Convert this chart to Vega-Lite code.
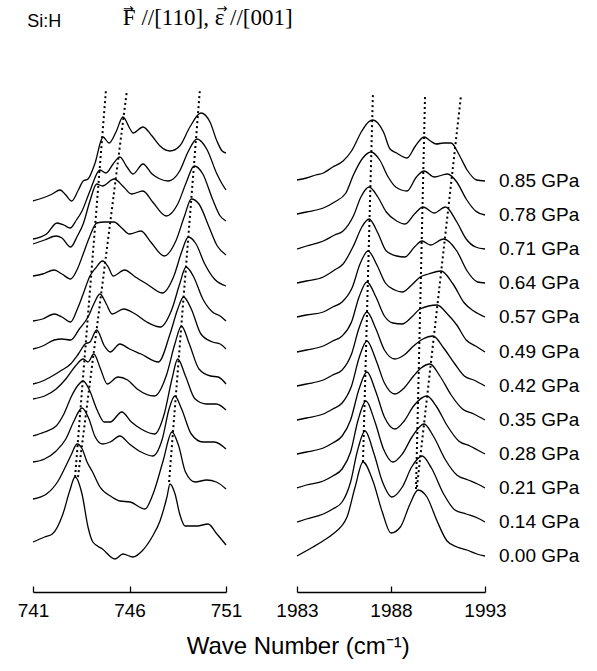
{
"$schema": "https://vega.github.io/schema/vega-lite/v6.json",
"padding": {"left": 17, "top": 3, "right": 5, "bottom": 5},
"background": "white",
"bounds": "flush",
"spacing": 71,
"title": {"text": "Wave Number (cm⁻¹)", "orient": "bottom", "anchor": "middle", "font": "Liberation Sans", "fontSize": 24, "fontWeight": "normal", "offset": 15, "color": "black"},
"config": {"view": {"stroke": null}},
"datasets": {
"L": [
{"p":"0.85","x":741.0,"y":391},{"p":"0.85","x":741.5,"y":394},{"p":"0.85","x":742.0,"y":398},{"p":"0.85","x":742.4,"y":402},{"p":"0.85","x":742.7,"y":397},{"p":"0.85","x":743.0,"y":391},{"p":"0.85","x":743.35,"y":402},{"p":"0.85","x":743.6,"y":411},{"p":"0.85","x":743.85,"y":413},{"p":"0.85","x":744.2,"y":428},{"p":"0.85","x":744.63,"y":455},{"p":"0.85","x":744.94,"y":449},{"p":"0.85","x":745.3,"y":460},{"p":"0.85","x":745.66,"y":475},{"p":"0.85","x":746.03,"y":463},{"p":"0.85","x":746.18,"y":459},{"p":"0.85","x":746.7,"y":465},{"p":"0.85","x":747.17,"y":456},{"p":"0.85","x":747.58,"y":446},{"p":"0.85","x":748.1,"y":441},{"p":"0.85","x":748.6,"y":446},{"p":"0.85","x":749.13,"y":465},{"p":"0.85","x":749.7,"y":479},{"p":"0.85","x":750.17,"y":470},{"p":"0.85","x":750.53,"y":451},{"p":"0.85","x":750.8,"y":441},{"p":"0.85","x":751.0,"y":439},
{"p":"0.78","x":741.0,"y":353},{"p":"0.78","x":741.7,"y":358},{"p":"0.78","x":742.24,"y":369},{"p":"0.78","x":742.6,"y":367},{"p":"0.78","x":742.92,"y":364},{"p":"0.78","x":743.25,"y":372},{"p":"0.78","x":743.54,"y":381},{"p":"0.78","x":743.95,"y":401},{"p":"0.78","x":744.47,"y":422},{"p":"0.78","x":744.78,"y":419},{"p":"0.78","x":745.15,"y":428},{"p":"0.78","x":745.5,"y":435},{"p":"0.78","x":745.87,"y":425},{"p":"0.78","x":746.18,"y":418},{"p":"0.78","x":746.7,"y":428},{"p":"0.78","x":747.17,"y":418},{"p":"0.78","x":747.58,"y":413},{"p":"0.78","x":748.0,"y":411},{"p":"0.78","x":748.6,"y":421},{"p":"0.78","x":749.03,"y":440},{"p":"0.78","x":749.5,"y":453},{"p":"0.78","x":750.0,"y":443},{"p":"0.78","x":750.53,"y":418},{"p":"0.78","x":750.8,"y":408},{"p":"0.78","x":751.0,"y":402},
{"p":"0.71","x":741.0,"y":348},{"p":"0.71","x":741.6,"y":352},{"p":"0.71","x":742.2,"y":356},{"p":"0.71","x":742.5,"y":354},{"p":"0.71","x":742.95,"y":345},{"p":"0.71","x":743.3,"y":356},{"p":"0.71","x":743.6,"y":368},{"p":"0.71","x":743.95,"y":391},{"p":"0.71","x":744.3,"y":408},{"p":"0.71","x":744.6,"y":406},{"p":"0.71","x":745.2,"y":413},{"p":"0.71","x":745.7,"y":405},{"p":"0.71","x":746.1,"y":398},{"p":"0.71","x":746.7,"y":401},{"p":"0.71","x":747.2,"y":390},{"p":"0.71","x":747.9,"y":376},{"p":"0.71","x":748.5,"y":388},{"p":"0.71","x":748.95,"y":410},{"p":"0.71","x":749.35,"y":426},{"p":"0.71","x":749.8,"y":418},{"p":"0.71","x":750.3,"y":393},{"p":"0.71","x":750.7,"y":376},{"p":"0.71","x":751.0,"y":371},
{"p":"0.64","x":741.0,"y":316},{"p":"0.64","x":741.5,"y":318},{"p":"0.64","x":742.1,"y":322},{"p":"0.64","x":742.5,"y":318},{"p":"0.64","x":742.95,"y":313},{"p":"0.64","x":743.3,"y":323},{"p":"0.64","x":743.6,"y":338},{"p":"0.64","x":743.95,"y":356},{"p":"0.64","x":744.3,"y":369},{"p":"0.64","x":744.7,"y":370},{"p":"0.64","x":745.2,"y":370},{"p":"0.64","x":745.6,"y":364},{"p":"0.64","x":746.0,"y":358},{"p":"0.64","x":746.6,"y":361},{"p":"0.64","x":747.1,"y":350},{"p":"0.64","x":747.8,"y":336},{"p":"0.64","x":748.4,"y":351},{"p":"0.64","x":748.85,"y":376},{"p":"0.64","x":749.2,"y":393},{"p":"0.64","x":749.6,"y":388},{"p":"0.64","x":750.1,"y":366},{"p":"0.64","x":750.55,"y":346},{"p":"0.64","x":751.0,"y":337},
{"p":"0.57","x":741.0,"y":271},{"p":"0.57","x":741.5,"y":273},{"p":"0.57","x":742.1,"y":278},{"p":"0.57","x":742.5,"y":275},{"p":"0.57","x":742.95,"y":270},{"p":"0.57","x":743.3,"y":283},{"p":"0.57","x":743.6,"y":298},{"p":"0.57","x":743.95,"y":316},{"p":"0.57","x":744.25,"y":324},{"p":"0.57","x":744.6,"y":331},{"p":"0.57","x":744.9,"y":325},{"p":"0.57","x":745.15,"y":316},{"p":"0.57","x":745.75,"y":322},{"p":"0.57","x":746.3,"y":315},{"p":"0.57","x":746.9,"y":308},{"p":"0.57","x":747.7,"y":299},{"p":"0.57","x":748.3,"y":316},{"p":"0.57","x":748.7,"y":340},{"p":"0.57","x":749.05,"y":355},{"p":"0.57","x":749.45,"y":348},{"p":"0.57","x":749.9,"y":328},{"p":"0.57","x":750.4,"y":313},{"p":"0.57","x":751.0,"y":306},
{"p":"0.49","x":741.0,"y":243},{"p":"0.49","x":741.5,"y":246},{"p":"0.49","x":742.1,"y":252},{"p":"0.49","x":742.5,"y":253},{"p":"0.49","x":742.95,"y":252},{"p":"0.49","x":743.4,"y":263},{"p":"0.49","x":743.85,"y":275},{"p":"0.49","x":744.15,"y":288},{"p":"0.49","x":744.47,"y":298},{"p":"0.49","x":744.8,"y":288},{"p":"0.49","x":745.1,"y":278},{"p":"0.49","x":745.7,"y":283},{"p":"0.49","x":746.3,"y":278},{"p":"0.49","x":746.9,"y":270},{"p":"0.49","x":747.6,"y":265},{"p":"0.49","x":748.2,"y":283},{"p":"0.49","x":748.6,"y":308},{"p":"0.49","x":748.93,"y":325},{"p":"0.49","x":749.3,"y":316},{"p":"0.49","x":749.8,"y":293},{"p":"0.49","x":750.3,"y":280},{"p":"0.49","x":750.7,"y":276},{"p":"0.49","x":751.0,"y":271},
{"p":"0.42","x":741.0,"y":208},{"p":"0.42","x":741.5,"y":211},{"p":"0.42","x":742.0,"y":216},{"p":"0.42","x":742.5,"y":222},{"p":"0.42","x":742.95,"y":228},{"p":"0.42","x":743.35,"y":238},{"p":"0.42","x":743.7,"y":248},{"p":"0.42","x":743.95,"y":250},{"p":"0.42","x":744.3,"y":262},{"p":"0.42","x":744.7,"y":246},{"p":"0.42","x":745.0,"y":240},{"p":"0.42","x":745.5,"y":248},{"p":"0.42","x":746.0,"y":243},{"p":"0.42","x":746.6,"y":238},{"p":"0.42","x":747.5,"y":230},{"p":"0.42","x":748.1,"y":258},{"p":"0.42","x":748.5,"y":283},{"p":"0.42","x":748.8,"y":295},{"p":"0.42","x":749.2,"y":283},{"p":"0.42","x":749.7,"y":258},{"p":"0.42","x":750.3,"y":250},{"p":"0.42","x":750.7,"y":248},{"p":"0.42","x":751.0,"y":243},
{"p":"0.35","x":741.0,"y":193},{"p":"0.35","x":741.6,"y":196},{"p":"0.35","x":742.2,"y":203},{"p":"0.35","x":742.7,"y":213},{"p":"0.35","x":743.2,"y":226},{"p":"0.35","x":743.6,"y":233},{"p":"0.35","x":743.85,"y":230},{"p":"0.35","x":744.15,"y":238},{"p":"0.35","x":744.5,"y":223},{"p":"0.35","x":744.85,"y":208},{"p":"0.35","x":745.4,"y":215},{"p":"0.35","x":745.9,"y":212},{"p":"0.35","x":746.4,"y":203},{"p":"0.35","x":747.3,"y":196},{"p":"0.35","x":747.9,"y":216},{"p":"0.35","x":748.35,"y":248},{"p":"0.35","x":748.69,"y":266},{"p":"0.35","x":749.1,"y":248},{"p":"0.35","x":749.6,"y":223},{"p":"0.35","x":750.2,"y":216},{"p":"0.35","x":750.6,"y":215},{"p":"0.35","x":751.0,"y":208},
{"p":"0.28","x":741.0,"y":156},{"p":"0.28","x":741.6,"y":160},{"p":"0.28","x":742.2,"y":166},{"p":"0.28","x":742.6,"y":178},{"p":"0.28","x":743.0,"y":196},{"p":"0.28","x":743.3,"y":206},{"p":"0.28","x":743.6,"y":211},{"p":"0.28","x":743.9,"y":203},{"p":"0.28","x":744.3,"y":183},{"p":"0.28","x":744.7,"y":170},{"p":"0.28","x":745.0,"y":170},{"p":"0.28","x":745.6,"y":180},{"p":"0.28","x":746.1,"y":170},{"p":"0.28","x":746.6,"y":163},{"p":"0.28","x":747.3,"y":158},{"p":"0.28","x":747.8,"y":178},{"p":"0.28","x":748.2,"y":213},{"p":"0.28","x":748.5,"y":233},{"p":"0.28","x":748.9,"y":216},{"p":"0.28","x":749.4,"y":193},{"p":"0.28","x":750.0,"y":188},{"p":"0.28","x":750.5,"y":188},{"p":"0.28","x":751.0,"y":182},
{"p":"0.21","x":741.0,"y":130},{"p":"0.21","x":741.6,"y":133},{"p":"0.21","x":742.2,"y":141},{"p":"0.21","x":742.7,"y":153},{"p":"0.21","x":743.1,"y":170},{"p":"0.21","x":743.54,"y":184},{"p":"0.21","x":743.9,"y":173},{"p":"0.21","x":744.2,"y":156},{"p":"0.21","x":744.6,"y":148},{"p":"0.21","x":745.0,"y":150},{"p":"0.21","x":745.5,"y":156},{"p":"0.21","x":746.0,"y":148},{"p":"0.21","x":746.6,"y":140},{"p":"0.21","x":747.2,"y":136},{"p":"0.21","x":747.7,"y":153},{"p":"0.21","x":748.05,"y":183},{"p":"0.21","x":748.35,"y":196},{"p":"0.21","x":748.7,"y":183},{"p":"0.21","x":749.2,"y":158},{"p":"0.21","x":749.8,"y":150},{"p":"0.21","x":750.4,"y":150},{"p":"0.21","x":751.0,"y":143},
{"p":"0.14","x":741.0,"y":93},{"p":"0.14","x":741.7,"y":98},{"p":"0.14","x":742.3,"y":111},{"p":"0.14","x":742.7,"y":126},{"p":"0.14","x":743.0,"y":138},{"p":"0.14","x":743.28,"y":148},{"p":"0.14","x":743.55,"y":143},{"p":"0.14","x":743.8,"y":130},{"p":"0.14","x":744.06,"y":121},{"p":"0.14","x":744.47,"y":105},{"p":"0.14","x":745.09,"y":95},{"p":"0.14","x":745.5,"y":91},{"p":"0.14","x":746.03,"y":90},{"p":"0.14","x":746.8,"y":83},{"p":"0.14","x":747.22,"y":98},{"p":"0.14","x":747.74,"y":131},{"p":"0.14","x":748.2,"y":160},{"p":"0.14","x":748.55,"y":146},{"p":"0.14","x":748.9,"y":120},{"p":"0.14","x":749.4,"y":110},{"p":"0.14","x":750.0,"y":112},{"p":"0.14","x":750.5,"y":110},{"p":"0.14","x":751.0,"y":103},
{"p":"0.00","x":741.0,"y":50},{"p":"0.00","x":741.6,"y":55},{"p":"0.00","x":742.0,"y":58},{"p":"0.00","x":742.55,"y":78},{"p":"0.00","x":742.9,"y":101},{"p":"0.00","x":743.18,"y":115},{"p":"0.00","x":743.54,"y":98},{"p":"0.00","x":743.85,"y":65},{"p":"0.00","x":744.1,"y":50},{"p":"0.00","x":744.6,"y":43},{"p":"0.00","x":745.25,"y":33},{"p":"0.00","x":745.66,"y":38},{"p":"0.00","x":746.18,"y":35},{"p":"0.00","x":746.65,"y":41},{"p":"0.00","x":747.17,"y":55},{"p":"0.00","x":747.58,"y":71},{"p":"0.00","x":747.94,"y":95},{"p":"0.00","x":748.1,"y":108},{"p":"0.00","x":748.36,"y":98},{"p":"0.00","x":748.6,"y":78},{"p":"0.00","x":748.88,"y":66},{"p":"0.00","x":749.5,"y":66},{"p":"0.00","x":750.07,"y":68},{"p":"0.00","x":750.53,"y":58},{"p":"0.00","x":751.0,"y":47}
],
"R": [
{"p":"0.85","x":1983.0,"y":412},{"p":"0.85","x":1983.5,"y":414},{"p":"0.85","x":1984.0,"y":417},{"p":"0.85","x":1984.4,"y":419},{"p":"0.85","x":1984.9,"y":425},{"p":"0.85","x":1985.45,"y":431},{"p":"0.85","x":1985.9,"y":441},{"p":"0.85","x":1986.45,"y":461},{"p":"0.85","x":1986.8,"y":470},{"p":"0.85","x":1987.04,"y":472},{"p":"0.85","x":1987.3,"y":469},{"p":"0.85","x":1987.6,"y":460},{"p":"0.85","x":1987.95,"y":443},{"p":"0.85","x":1988.3,"y":439},{"p":"0.85","x":1988.85,"y":434},{"p":"0.85","x":1989.3,"y":446},{"p":"0.85","x":1989.76,"y":455},{"p":"0.85","x":1990.1,"y":451},{"p":"0.85","x":1990.4,"y":448},{"p":"0.85","x":1990.8,"y":449},{"p":"0.85","x":1991.2,"y":449},{"p":"0.85","x":1991.6,"y":438},{"p":"0.85","x":1992.05,"y":422},{"p":"0.85","x":1992.55,"y":412},{"p":"0.85","x":1993.0,"y":411},
{"p":"0.78","x":1983.0,"y":378},{"p":"0.78","x":1983.5,"y":380},{"p":"0.78","x":1984.4,"y":384},{"p":"0.78","x":1985.0,"y":390},{"p":"0.78","x":1985.6,"y":399},{"p":"0.78","x":1986.0,"y":417},{"p":"0.78","x":1986.5,"y":434},{"p":"0.78","x":1986.94,"y":440},{"p":"0.78","x":1987.4,"y":432},{"p":"0.78","x":1987.85,"y":415},{"p":"0.78","x":1988.25,"y":405},{"p":"0.78","x":1988.85,"y":401},{"p":"0.78","x":1989.35,"y":415},{"p":"0.78","x":1989.76,"y":421},{"p":"0.78","x":1990.3,"y":415},{"p":"0.78","x":1991.0,"y":418},{"p":"0.78","x":1991.5,"y":410},{"p":"0.78","x":1992.0,"y":393},{"p":"0.78","x":1992.5,"y":381},{"p":"0.78","x":1993.0,"y":377},
{"p":"0.71","x":1983.0,"y":343},{"p":"0.71","x":1983.5,"y":346},{"p":"0.71","x":1984.4,"y":351},{"p":"0.71","x":1985.0,"y":357},{"p":"0.71","x":1985.45,"y":361},{"p":"0.71","x":1986.0,"y":376},{"p":"0.71","x":1986.4,"y":395},{"p":"0.71","x":1986.83,"y":405},{"p":"0.71","x":1987.3,"y":395},{"p":"0.71","x":1987.75,"y":380},{"p":"0.71","x":1988.3,"y":371},{"p":"0.71","x":1988.75,"y":368},{"p":"0.71","x":1989.25,"y":378},{"p":"0.71","x":1989.7,"y":385},{"p":"0.71","x":1990.3,"y":379},{"p":"0.71","x":1990.9,"y":385},{"p":"0.71","x":1991.5,"y":370},{"p":"0.71","x":1992.0,"y":353},{"p":"0.71","x":1992.5,"y":345},{"p":"0.71","x":1993.0,"y":343},
{"p":"0.64","x":1983.0,"y":309},{"p":"0.64","x":1983.5,"y":311},{"p":"0.64","x":1984.4,"y":315},{"p":"0.64","x":1985.0,"y":322},{"p":"0.64","x":1985.45,"y":328},{"p":"0.64","x":1986.0,"y":346},{"p":"0.64","x":1986.45,"y":365},{"p":"0.64","x":1986.83,"y":373},{"p":"0.64","x":1987.3,"y":359},{"p":"0.64","x":1987.75,"y":341},{"p":"0.64","x":1988.3,"y":336},{"p":"0.64","x":1988.74,"y":335},{"p":"0.64","x":1989.25,"y":345},{"p":"0.64","x":1989.65,"y":351},{"p":"0.64","x":1990.1,"y":347},{"p":"0.64","x":1990.8,"y":353},{"p":"0.64","x":1991.5,"y":341},{"p":"0.64","x":1992.05,"y":321},{"p":"0.64","x":1992.6,"y":310},{"p":"0.64","x":1993.0,"y":309},
{"p":"0.57","x":1983.0,"y":275},{"p":"0.57","x":1983.5,"y":277},{"p":"0.57","x":1984.4,"y":280},{"p":"0.57","x":1984.9,"y":285},{"p":"0.57","x":1985.4,"y":290},{"p":"0.57","x":1985.95,"y":305},{"p":"0.57","x":1986.35,"y":328},{"p":"0.57","x":1986.78,"y":341},{"p":"0.57","x":1987.25,"y":327},{"p":"0.57","x":1987.7,"y":309},{"p":"0.57","x":1988.2,"y":302},{"p":"0.57","x":1988.6,"y":300},{"p":"0.57","x":1989.1,"y":307},{"p":"0.57","x":1989.55,"y":315},{"p":"0.57","x":1990.0,"y":318},{"p":"0.57","x":1990.66,"y":321},{"p":"0.57","x":1991.3,"y":308},{"p":"0.57","x":1991.9,"y":289},{"p":"0.57","x":1992.4,"y":281},{"p":"0.57","x":1993.0,"y":275},
{"p":"0.49","x":1983.0,"y":240},{"p":"0.49","x":1983.5,"y":242},{"p":"0.49","x":1984.4,"y":246},{"p":"0.49","x":1984.9,"y":251},{"p":"0.49","x":1985.4,"y":256},{"p":"0.49","x":1985.9,"y":270},{"p":"0.49","x":1986.3,"y":295},{"p":"0.49","x":1986.72,"y":310},{"p":"0.49","x":1987.2,"y":295},{"p":"0.49","x":1987.65,"y":276},{"p":"0.49","x":1988.1,"y":269},{"p":"0.49","x":1988.59,"y":268},{"p":"0.49","x":1989.1,"y":275},{"p":"0.49","x":1989.55,"y":283},{"p":"0.49","x":1990.45,"y":287},{"p":"0.49","x":1991.0,"y":278},{"p":"0.49","x":1991.5,"y":267},{"p":"0.49","x":1992.0,"y":252},{"p":"0.49","x":1992.5,"y":246},{"p":"0.49","x":1993.0,"y":240},
{"p":"0.42","x":1983.0,"y":206},{"p":"0.42","x":1983.5,"y":208},{"p":"0.42","x":1984.4,"y":212},{"p":"0.42","x":1984.9,"y":217},{"p":"0.42","x":1985.4,"y":222},{"p":"0.42","x":1985.9,"y":238},{"p":"0.42","x":1986.3,"y":264},{"p":"0.42","x":1986.72,"y":280},{"p":"0.42","x":1987.2,"y":263},{"p":"0.42","x":1987.65,"y":242},{"p":"0.42","x":1988.21,"y":233},{"p":"0.42","x":1988.7,"y":237},{"p":"0.42","x":1989.2,"y":246},{"p":"0.42","x":1989.7,"y":253},{"p":"0.42","x":1990.23,"y":256},{"p":"0.42","x":1990.8,"y":244},{"p":"0.42","x":1991.4,"y":228},{"p":"0.42","x":1991.9,"y":216},{"p":"0.42","x":1992.4,"y":212},{"p":"0.42","x":1993.0,"y":206},
{"p":"0.35","x":1983.0,"y":172},{"p":"0.35","x":1983.5,"y":174},{"p":"0.35","x":1984.4,"y":178},{"p":"0.35","x":1984.9,"y":183},{"p":"0.35","x":1985.4,"y":189},{"p":"0.35","x":1985.9,"y":206},{"p":"0.35","x":1986.3,"y":234},{"p":"0.35","x":1986.72,"y":251},{"p":"0.35","x":1987.2,"y":232},{"p":"0.35","x":1987.65,"y":209},{"p":"0.35","x":1988.21,"y":198},{"p":"0.35","x":1988.7,"y":204},{"p":"0.35","x":1989.2,"y":216},{"p":"0.35","x":1989.6,"y":224},{"p":"0.35","x":1990.07,"y":228},{"p":"0.35","x":1990.6,"y":216},{"p":"0.35","x":1991.2,"y":197},{"p":"0.35","x":1991.8,"y":183},{"p":"0.35","x":1992.4,"y":178},{"p":"0.35","x":1993.0,"y":172},
{"p":"0.28","x":1983.0,"y":138},{"p":"0.28","x":1983.5,"y":140},{"p":"0.28","x":1984.4,"y":144},{"p":"0.28","x":1984.9,"y":149},{"p":"0.28","x":1985.4,"y":156},{"p":"0.28","x":1985.85,"y":172},{"p":"0.28","x":1986.3,"y":203},{"p":"0.28","x":1986.72,"y":220},{"p":"0.28","x":1987.2,"y":200},{"p":"0.28","x":1987.65,"y":175},{"p":"0.28","x":1988.21,"y":163},{"p":"0.28","x":1988.7,"y":171},{"p":"0.28","x":1989.2,"y":186},{"p":"0.28","x":1989.91,"y":196},{"p":"0.28","x":1990.4,"y":186},{"p":"0.28","x":1991.0,"y":166},{"p":"0.28","x":1991.6,"y":151},{"p":"0.28","x":1992.2,"y":146},{"p":"0.28","x":1992.6,"y":142},{"p":"0.28","x":1993.0,"y":138},
{"p":"0.21","x":1983.0,"y":104},{"p":"0.21","x":1983.5,"y":107},{"p":"0.21","x":1984.4,"y":111},{"p":"0.21","x":1984.9,"y":116},{"p":"0.21","x":1985.4,"y":123},{"p":"0.21","x":1985.85,"y":140},{"p":"0.21","x":1986.25,"y":172},{"p":"0.21","x":1986.67,"y":191},{"p":"0.21","x":1987.15,"y":170},{"p":"0.21","x":1987.6,"y":143},{"p":"0.21","x":1988.1,"y":130},{"p":"0.21","x":1988.6,"y":138},{"p":"0.21","x":1989.15,"y":156},{"p":"0.21","x":1989.76,"y":168},{"p":"0.21","x":1990.25,"y":156},{"p":"0.21","x":1990.9,"y":132},{"p":"0.21","x":1991.5,"y":117},{"p":"0.21","x":1992.1,"y":112},{"p":"0.21","x":1992.6,"y":108},{"p":"0.21","x":1993.0,"y":104},
{"p":"0.14","x":1983.0,"y":70},{"p":"0.14","x":1983.5,"y":73},{"p":"0.14","x":1984.4,"y":78},{"p":"0.14","x":1984.9,"y":83},{"p":"0.14","x":1985.4,"y":90},{"p":"0.14","x":1985.85,"y":110},{"p":"0.14","x":1986.2,"y":140},{"p":"0.14","x":1986.62,"y":161},{"p":"0.14","x":1987.1,"y":138},{"p":"0.14","x":1987.55,"y":110},{"p":"0.14","x":1988.05,"y":95},{"p":"0.14","x":1988.6,"y":105},{"p":"0.14","x":1989.1,"y":125},{"p":"0.14","x":1989.65,"y":136},{"p":"0.14","x":1990.15,"y":124},{"p":"0.14","x":1990.8,"y":98},{"p":"0.14","x":1991.4,"y":82},{"p":"0.14","x":1992.0,"y":78},{"p":"0.14","x":1992.6,"y":74},{"p":"0.14","x":1993.0,"y":70},
{"p":"0.00","x":1983.0,"y":36},{"p":"0.00","x":1983.85,"y":45},{"p":"0.00","x":1984.38,"y":51},{"p":"0.00","x":1984.91,"y":58},{"p":"0.00","x":1985.66,"y":75},{"p":"0.00","x":1986.09,"y":105},{"p":"0.00","x":1986.51,"y":130},{"p":"0.00","x":1987.04,"y":111},{"p":"0.00","x":1987.52,"y":81},{"p":"0.00","x":1988.0,"y":59},{"p":"0.00","x":1988.5,"y":65},{"p":"0.00","x":1989.01,"y":88},{"p":"0.00","x":1989.44,"y":102},{"p":"0.00","x":1989.91,"y":95},{"p":"0.00","x":1990.45,"y":71},{"p":"0.00","x":1990.98,"y":51},{"p":"0.00","x":1991.51,"y":45},{"p":"0.00","x":1992.04,"y":42},{"p":"0.00","x":1992.57,"y":38},{"p":"0.00","x":1993.0,"y":36}
],
"DL": [
{"id":"A","x":743.18,"y":115},{"id":"A","x":744.78,"y":502},
{"id":"B","x":743.33,"y":115},{"id":"B","x":745.87,"y":502},
{"id":"C","x":748.05,"y":110},{"id":"C","x":749.65,"y":503}
],
"DR": [
{"id":"1","x":1986.51,"y":130},{"id":"1","x":1987.04,"y":499},
{"id":"2","x":1989.33,"y":103},{"id":"2","x":1989.81,"y":496},
{"id":"3","x":1989.38,"y":105},{"id":"3","x":1991.72,"y":496}
]
},
"hconcat": [
{
"width": 193, "height": 508,
"title": {"text": "Si:H", "anchor": "start", "dx": 10, "offset": 39, "baseline": "alphabetic", "font": "Liberation Sans", "fontSize": 18, "fontWeight": "normal", "color": "black"},
"layer": [
{"data": {"name": "L"},
"mark": {"type": "line", "interpolate": "monotone", "color": "black", "strokeWidth": 1.3},
"encoding": {
"x": {"field": "x", "type": "quantitative", "scale": {"domain": [741, 751], "nice": false, "zero": false},
"axis": {"values": [741, 746, 751], "title": null, "grid": false, "domainColor": "black", "domainWidth": 1.3, "tickColor": "black", "tickSize": -6, "tickWidth": 1.3, "labelFont": "Liberation Sans", "labelFontSize": 19, "labelColor": "black", "labelPadding": 15, "labelFlush": false, "labelOverlap": false}},
"y": {"field": "y", "type": "quantitative", "scale": {"domain": [0, 508], "nice": false}, "axis": null},
"detail": {"field": "p"}}},
{"data": {"name": "DL"},
"mark": {"type": "line", "color": "black", "strokeWidth": 2, "strokeDash": [2, 3]},
"encoding": {
"x": {"field": "x", "type": "quantitative"},
"y": {"field": "y", "type": "quantitative"},
"detail": {"field": "id"}}}
]
},
{
"width": 188, "height": 508,
"title": {"text": "→\u00a0\u00a0\u00a0\u00a0\u00a0\u00a0\u00a0\u00a0\u00a0\u00a0\u00a0\u00a0\u00a0\u00a0\u00a0\u00a0\u00a0\u00a0\u00a0\u00a0→", "anchor": "start", "dx": -153, "offset": 44, "baseline": "alphabetic", "font": "DejaVu Sans", "fontSize": 13, "fontWeight": "normal", "color": "black",
"subtitle": "F //[110], ε //[001]", "subtitleFont": "Liberation Serif", "subtitleFontSize": 23, "subtitleColor": "black", "subtitlePadding": -1},
"layer": [
{"data": {"name": "R"},
"mark": {"type": "line", "interpolate": "monotone", "color": "black", "strokeWidth": 1.3},
"encoding": {
"x": {"field": "x", "type": "quantitative", "scale": {"domain": [1983, 1993], "nice": false, "zero": false},
"axis": {"values": [1983, 1988, 1993], "title": null, "grid": false, "domainColor": "black", "domainWidth": 1.3, "tickColor": "black", "tickSize": -6, "tickWidth": 1.3, "labelFont": "Liberation Sans", "labelFontSize": 19, "labelColor": "black", "labelPadding": 15, "labelFlush": false, "labelOverlap": false, "format": "d"}},
"y": {"field": "y", "type": "quantitative", "scale": {"domain": [0, 508], "nice": false}, "axis": null},
"detail": {"field": "p"}}},
{"data": {"name": "DR"},
"mark": {"type": "line", "color": "black", "strokeWidth": 2, "strokeDash": [2, 3]},
"encoding": {
"x": {"field": "x", "type": "quantitative"},
"y": {"field": "y", "type": "quantitative"},
"detail": {"field": "id"}}},
{"data": {"name": "R"},
"transform": [{"filter": "datum.x == 1993"}, {"calculate": "datum.p + ' GPa'", "as": "label"}],
"mark": {"type": "text", "align": "left", "baseline": "middle", "dx": 14, "font": "Liberation Sans", "fontSize": 19, "color": "black"},
"encoding": {
"x": {"field": "x", "type": "quantitative"},
"y": {"field": "y", "type": "quantitative"},
"text": {"field": "label"}}}
]
}
]
}
